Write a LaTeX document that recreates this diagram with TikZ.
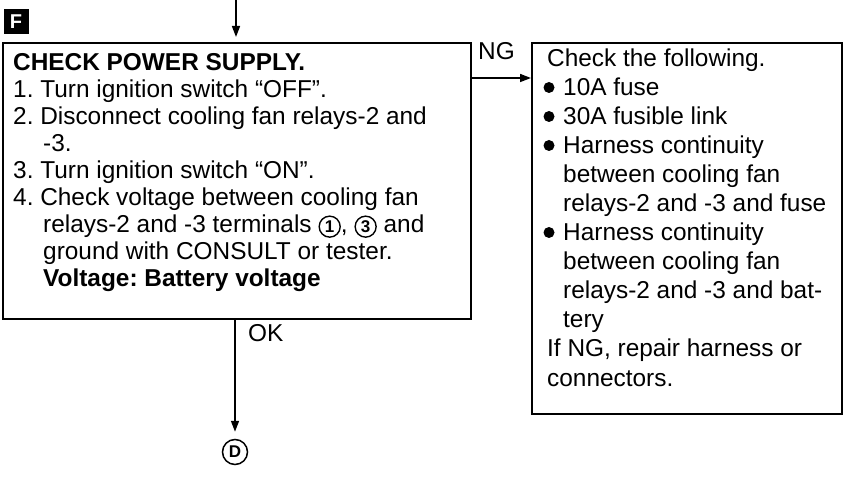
\documentclass[tikz,border=0pt]{standalone}
\usepackage{fontspec}
\setmainfont{Liberation Sans}
\frenchspacing
\usetikzlibrary{arrows.meta}
\newcommand\cnum[1]{\tikz[baseline=(cn.base)]\node[circle,draw,line width=1.4pt,inner sep=0pt,minimum size=21pt,font=\fontsize{17}{17}\selectfont\bfseries](cn){#1};}
\tikzset{
  txt/.style={anchor=base west,inner sep=0pt,font=\fontsize{24.4}{27}\selectfont},
  btxt/.style={txt,font=\fontsize{24.4}{27}\selectfont\bfseries},
  boxstyle/.style={draw,line width=1.8pt,anchor=north west,inner sep=0pt},
  arr/.style={line width=1.6pt,-{Triangle[length=11pt,width=8pt]}},
}
\begin{document}
\begin{tikzpicture}[x=1pt,y=-1pt]
\useasboundingbox (0,0) rectangle (849,486);
% F label
\node[fill=black,minimum size=25pt,inner sep=0pt,text=white,font=\fontsize{20}{20}\selectfont\bfseries] (flab) at (16,22) {F};
% boxes
\node[boxstyle,minimum width=468pt,minimum height=276pt] (box1) at (2,42) {};
\node[boxstyle,minimum width=310pt,minimum height=371pt] (box2) at (531,42) {};
% left box text
\node[btxt] (l1) at (13,70.5) {CHECK POWER SUPPLY.};
\node[txt] (l2) at (13,97.5) {1. Turn ignition switch “OFF”.};
\node[txt] (l3) at (13,124.5) {2. Disconnect cooling fan relays-2 and};
\node[txt] (l4) at (43,151.5) {-3.};
\node[txt] (l5) at (13,178.5) {3. Turn ignition switch “ON”.};
\node[txt] (l6) at (13,205.5) {4. Check voltage between cooling fan};
\node[txt] (l7) at (43,232.5) {relays-2 and -3 terminals \cnum{1}, \cnum{3} and};
\node[txt] (l8) at (43,259.5) {ground with CONSULT or tester.};
\node[btxt] (l9) at (43,286.5) {Voltage: Battery voltage};
% right box text
\node[txt] (r1) at (547,67) {Check the following.};
\node[txt] (r2) at (563,96) {10A fuse};
\node[txt] (r3) at (563,125) {30A fusible link};
\node[txt] (r4) at (563,154) {Harness continuity};
\node[txt] (r5) at (563,183) {between cooling fan};
\node[txt] (r6) at (563,212) {relays-2 and -3 and fuse};
\node[txt] (r7) at (563,241) {Harness continuity};
\node[txt] (r8) at (563,270) {between cooling fan};
\node[txt] (r9) at (563,299) {relays-2 and -3 and bat-};
\node[txt] (r10) at (563,328) {tery};
\node[txt] (r11) at (547,357) {If NG, repair harness or};
\node[txt] (r12) at (547,386) {connectors.};
\foreach \yy in {87.5,116.5,145.5,232.5} \fill (549,\yy) circle (5.5pt);
% connectors
\coordinate (topin) at (236,0);
\draw[arr,shorten >=5pt] (topin) -- (topin |- box1.north);
\coordinate (ngy) at (0,78);
\draw[arr] (box1.east |- ngy) -- (box2.west |- ngy);
\node[txt] (nglab) at (478,60) {NG};
\node[circle,draw,line width=1.5pt,minimum size=25pt,inner sep=0pt,font=\fontsize{17}{17}\selectfont\bfseries] (dnode) at (235,452) {D};
\draw[arr,shorten >=7pt] (box1.south -| dnode) -- (dnode.north);
\node[txt] (oklab) at (248,342) {OK};
\end{tikzpicture}
\end{document}
